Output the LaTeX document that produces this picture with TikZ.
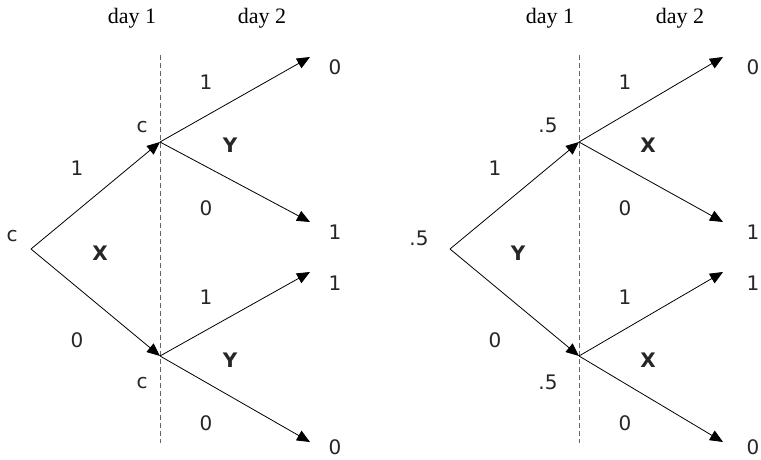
\documentclass[tikz,border=0pt]{standalone}
\usepackage{fontspec}
\setmainfont{Liberation Serif}
\setsansfont{DejaVu Sans}
\usetikzlibrary{arrows.meta}

\begin{document}
\begin{tikzpicture}[
  x=1pt, y=-1pt,
  val/.style={font=\sffamily\fontsize{20}{22}\selectfont, text=black!85, inner sep=0pt},
  agent/.style={font=\sffamily\bfseries\fontsize{20}{22}\selectfont, text=black!85, inner sep=0pt},
  daylabel/.style={font=\fontsize{22}{24}\selectfont, inner sep=0pt},
  arr/.style={-{Triangle[length=13pt,width=11pt]}, line width=0.8pt},
  divider/.style={gray!80!black, line width=0.8pt, dash pattern=on 5pt off 3pt},
]
\useasboundingbox (0,0) rectangle (761,460);

% ====== LEFT TREE ======
\node[daylabel] (d1L) at (132,18) {day 1};
\node[daylabel] (d2L) at (262,18) {day 2};

\coordinate (topL) at (160,55);
\coordinate (botL) at (160,443);
\draw[divider] (topL) -- (botL);

\coordinate (rootL) at (31,249);
\coordinate (upL) at (160,142);
\coordinate (lowL) at (160,356);
\coordinate (uuL) at (310,57);
\coordinate (ulL) at (310,222);
\coordinate (luL) at (310,272);
\coordinate (llL) at (310,442);

% day 1 branches
\draw[arr] (rootL) -- (upL);
\draw[arr] (rootL) -- (lowL);
% day 2 branches
\draw[arr] (upL) -- (uuL);
\draw[arr] (upL) -- (ulL);
\draw[arr] (lowL) -- (luL);
\draw[arr] (lowL) -- (llL);

% values at the nodes
\node[val] (vrootL) at (12,236) {c};
\node[val] (vupL) at (142,127) {c};
\node[val] (vlowL) at (142,383) {c};
\node[val] (vuuL) at (335,67) {0};
\node[val] (vulL) at (335,232) {1};
\node[val] (vluL) at (335,283) {1};
\node[val] (vllL) at (335,447) {0};

% edge labels
\node[val] (eupL) at (77,168) {1};
\node[val] (elowL) at (77,340) {0};
\node[val] (euuL) at (206,82) {1};
\node[val] (eulL) at (206,208) {0};
\node[val] (eluL) at (206,297) {1};
\node[val] (ellL) at (206,423) {0};

% who moves
\node[agent] (aL) at (100,253) {X};
\node[agent] (auL) at (230,145) {Y};
\node[agent] (alL) at (230,360) {Y};

% ====== RIGHT TREE ======
\node[daylabel] (d1R) at (550,18) {day 1};
\node[daylabel] (d2R) at (680,18) {day 2};

\coordinate (topR) at (579,55);
\coordinate (botR) at (579,443);
\draw[divider] (topR) -- (botR);

\coordinate (rootR) at (450,249);
\coordinate (upR) at (579,142);
\coordinate (lowR) at (579,356);
\coordinate (uuR) at (723,57);
\coordinate (ulR) at (723,222);
\coordinate (luR) at (723,272);
\coordinate (llR) at (723,442);

% day 1 branches
\draw[arr] (rootR) -- (upR);
\draw[arr] (rootR) -- (lowR);
% day 2 branches
\draw[arr] (upR) -- (uuR);
\draw[arr] (upR) -- (ulR);
\draw[arr] (lowR) -- (luR);
\draw[arr] (lowR) -- (llR);

% values at the nodes
\node[val] (vrootR) at (419,238) {.5};
\node[val] (vupR) at (548,125) {.5};
\node[val] (vlowR) at (548,382) {.5};
\node[val] (vuuR) at (753,67) {0};
\node[val] (vulR) at (753,232) {1};
\node[val] (vluR) at (753,283) {1};
\node[val] (vllR) at (753,447) {0};

% edge labels
\node[val] (eupR) at (495,168) {1};
\node[val] (elowR) at (495,340) {0};
\node[val] (euuR) at (625,82) {1};
\node[val] (eulR) at (625,208) {0};
\node[val] (eluR) at (625,297) {1};
\node[val] (ellR) at (625,423) {0};

% who moves
\node[agent] (aR) at (518,253) {Y};
\node[agent] (auR) at (648,145) {X};
\node[agent] (alR) at (648,360) {X};

\end{tikzpicture}
\end{document}
